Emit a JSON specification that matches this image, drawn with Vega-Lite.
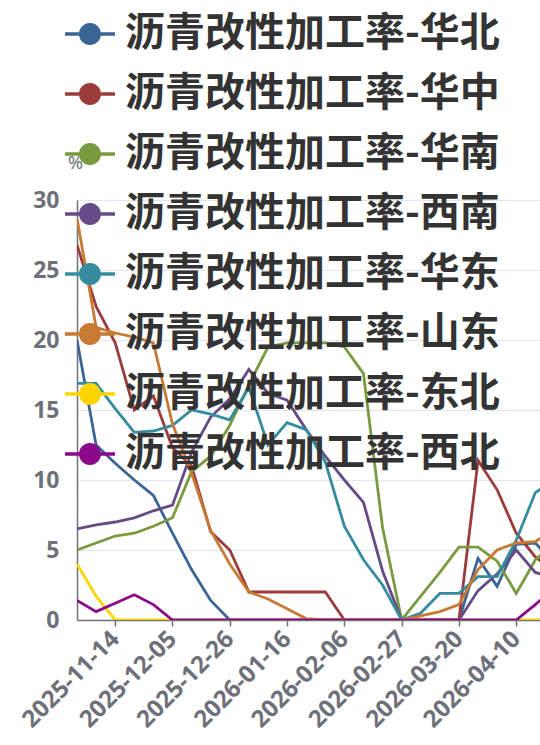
{
  "$schema": "https://vega.github.io/schema/vega-lite/v6.json",
  "autosize": {"type": "none"},
  "padding": {"left": 77, "top": 200, "right": 0, "bottom": 125},
  "width": 463,
  "height": 420,
  "background": "#ffffff",
  "config": {"view": {"stroke": null}},
  "data": {"values": [
    {"d":"2025-10-31","沥青改性加工率-华北":20,"沥青改性加工率-华中":26.8,"沥青改性加工率-华南":5.0,"沥青改性加工率-西南":6.5,"沥青改性加工率-华东":16.9,"沥青改性加工率-山东":28.7,"沥青改性加工率-东北":4.0,"沥青改性加工率-西北":1.4},
    {"d":"2025-11-07","沥青改性加工率-华北":12.5,"沥青改性加工率-华中":22.4,"沥青改性加工率-华南":5.5,"沥青改性加工率-西南":6.8,"沥青改性加工率-华东":16.9,"沥青改性加工率-山东":20.9,"沥青改性加工率-东北":1.7,"沥青改性加工率-西北":0.6},
    {"d":"2025-11-14","沥青改性加工率-华北":11.2,"沥青改性加工率-华中":19.8,"沥青改性加工率-华南":6.0,"沥青改性加工率-西南":7.0,"沥青改性加工率-华东":15.1,"沥青改性加工率-山东":20.5,"沥青改性加工率-东北":0,"沥青改性加工率-西北":1.2},
    {"d":"2025-11-21","沥青改性加工率-华北":10.0,"沥青改性加工率-华中":15.0,"沥青改性加工率-华南":6.2,"沥青改性加工率-西南":7.3,"沥青改性加工率-华东":13.4,"沥青改性加工率-山东":20.2,"沥青改性加工率-东北":0,"沥青改性加工率-西北":1.8},
    {"d":"2025-11-28","沥青改性加工率-华北":8.9,"沥青改性加工率-华中":16.0,"沥青改性加工率-华南":6.7,"沥青改性加工率-西南":7.8,"沥青改性加工率-华东":13.5,"沥青改性加工率-山东":19.8,"沥青改性加工率-东北":0,"沥青改性加工率-西北":1.1},
    {"d":"2025-12-05","沥青改性加工率-华北":6.2,"沥青改性加工率-华中":12.3,"沥青改性加工率-华南":7.3,"沥青改性加工率-西南":8.2,"沥青改性加工率-华东":13.9,"沥青改性加工率-山东":14.0,"沥青改性加工率-东北":0,"沥青改性加工率-西北":0},
    {"d":"2025-12-12","沥青改性加工率-华北":3.6,"沥青改性加工率-华中":11.0,"沥青改性加工率-华南":10.6,"沥青改性加工率-西南":12.0,"沥青改性加工率-华东":15.0,"沥青改性加工率-山东":10.5,"沥青改性加工率-东北":0,"沥青改性加工率-西北":0},
    {"d":"2025-12-19","沥青改性加工率-华北":1.4,"沥青改性加工率-华中":6.3,"沥青改性加工率-华南":11.7,"沥青改性加工率-西南":14.5,"沥青改性加工率-华东":14.7,"沥青改性加工率-山东":6.4,"沥青改性加工率-东北":0,"沥青改性加工率-西北":0},
    {"d":"2025-12-26","沥青改性加工率-华北":0,"沥青改性加工率-华中":5.0,"沥青改性加工率-华南":13.9,"沥青改性加工率-西南":15.8,"沥青改性加工率-华东":14.3,"沥青改性加工率-山东":4.0,"沥青改性加工率-东北":0,"沥青改性加工率-西北":0},
    {"d":"2026-01-02","沥青改性加工率-华北":0,"沥青改性加工率-华中":2.0,"沥青改性加工率-华南":16.8,"沥青改性加工率-西南":17.9,"沥青改性加工率-华东":16.6,"沥青改性加工率-山东":2.0,"沥青改性加工率-东北":0,"沥青改性加工率-西北":0},
    {"d":"2026-01-09","沥青改性加工率-华北":0,"沥青改性加工率-华中":2.0,"沥青改性加工率-华南":19.5,"沥青改性加工率-西南":16.2,"沥青改性加工率-华东":12.5,"沥青改性加工率-山东":1.5,"沥青改性加工率-东北":0,"沥青改性加工率-西北":0},
    {"d":"2026-01-16","沥青改性加工率-华北":0,"沥青改性加工率-华中":2.0,"沥青改性加工率-华南":19.8,"沥青改性加工率-西南":15.7,"沥青改性加工率-华东":14.1,"沥青改性加工率-山东":0.8,"沥青改性加工率-东北":0,"沥青改性加工率-西北":0},
    {"d":"2026-01-23","沥青改性加工率-华北":0,"沥青改性加工率-华中":2.0,"沥青改性加工率-华南":19.8,"沥青改性加工率-西南":13.6,"沥青改性加工率-华东":13.6,"沥青改性加工率-山东":0.1,"沥青改性加工率-东北":0,"沥青改性加工率-西北":0},
    {"d":"2026-01-30","沥青改性加工率-华北":0,"沥青改性加工率-华中":2.0,"沥青改性加工率-华南":19.8,"沥青改性加工率-西南":11.7,"沥青改性加工率-华东":11.3,"沥青改性加工率-山东":0,"沥青改性加工率-东北":0,"沥青改性加工率-西北":0},
    {"d":"2026-02-06","沥青改性加工率-华北":0,"沥青改性加工率-华中":0,"沥青改性加工率-华南":19.5,"沥青改性加工率-西南":10.0,"沥青改性加工率-华东":6.7,"沥青改性加工率-山东":0,"沥青改性加工率-东北":0,"沥青改性加工率-西北":0},
    {"d":"2026-02-13","沥青改性加工率-华北":0,"沥青改性加工率-华中":0,"沥青改性加工率-华南":17.6,"沥青改性加工率-西南":8.4,"沥青改性加工率-华东":4.3,"沥青改性加工率-山东":0,"沥青改性加工率-东北":0,"沥青改性加工率-西北":0},
    {"d":"2026-02-20","沥青改性加工率-华北":0,"沥青改性加工率-华中":0,"沥青改性加工率-华南":6.6,"沥青改性加工率-西南":3.5,"沥青改性加工率-华东":2.5,"沥青改性加工率-山东":0,"沥青改性加工率-东北":0,"沥青改性加工率-西北":0},
    {"d":"2026-02-27","沥青改性加工率-华北":0,"沥青改性加工率-华中":0,"沥青改性加工率-华南":0,"沥青改性加工率-西南":0,"沥青改性加工率-华东":0,"沥青改性加工率-山东":0,"沥青改性加工率-东北":0,"沥青改性加工率-西北":0},
    {"d":"2026-03-06","沥青改性加工率-华北":0,"沥青改性加工率-华中":0,"沥青改性加工率-华南":1.7,"沥青改性加工率-西南":0,"沥青改性加工率-华东":0.5,"沥青改性加工率-山东":0.3,"沥青改性加工率-东北":0,"沥青改性加工率-西北":0},
    {"d":"2026-03-13","沥青改性加工率-华北":0,"沥青改性加工率-华中":0,"沥青改性加工率-华南":3.4,"沥青改性加工率-西南":0,"沥青改性加工率-华东":1.9,"沥青改性加工率-山东":0.6,"沥青改性加工率-东北":0,"沥青改性加工率-西北":0},
    {"d":"2026-03-20","沥青改性加工率-华北":0,"沥青改性加工率-华中":0,"沥青改性加工率-华南":5.2,"沥青改性加工率-西南":0,"沥青改性加工率-华东":1.9,"沥青改性加工率-山东":1.1,"沥青改性加工率-东北":0,"沥青改性加工率-西北":0},
    {"d":"2026-03-27","沥青改性加工率-华北":4.4,"沥青改性加工率-华中":11.4,"沥青改性加工率-华南":5.2,"沥青改性加工率-西南":2.1,"沥青改性加工率-华东":3.1,"沥青改性加工率-山东":3.6,"沥青改性加工率-东北":0,"沥青改性加工率-西北":0},
    {"d":"2026-04-03","沥青改性加工率-华北":2.4,"沥青改性加工率-华中":9.3,"沥青改性加工率-华南":4.2,"沥青改性加工率-西南":3.3,"沥青改性加工率-华东":3.1,"沥青改性加工率-山东":5.0,"沥青改性加工率-东北":0,"沥青改性加工率-西北":0},
    {"d":"2026-04-10","沥青改性加工率-华北":5.4,"沥青改性加工率-华中":6.2,"沥青改性加工率-华南":1.9,"沥青改性加工率-西南":5.0,"沥青改性加工率-华东":5.7,"沥青改性加工率-山东":5.5,"沥青改性加工率-东北":0,"沥青改性加工率-西北":0},
    {"d":"2026-04-17","沥青改性加工率-华北":5.5,"沥青改性加工率-华中":4.5,"沥青改性加工率-华南":4.3,"沥青改性加工率-西南":3.4,"沥青改性加工率-华东":9.1,"沥青改性加工率-山东":5.6,"沥青改性加工率-东北":0,"沥青改性加工率-西北":1.1},
    {"d":"2026-04-24","沥青改性加工率-华北":4.0,"沥青改性加工率-华中":3.5,"沥青改性加工率-华南":5.5,"沥青改性加工率-西南":3.0,"沥青改性加工率-华东":10.0,"沥青改性加工率-山东":6.5,"沥青改性加工率-东北":0,"沥青改性加工率-西北":2.3}
  ]},
  "transform": [
    {"fold": ["沥青改性加工率-华北","沥青改性加工率-华中","沥青改性加工率-华南","沥青改性加工率-西南","沥青改性加工率-华东","沥青改性加工率-山东","沥青改性加工率-东北","沥青改性加工率-西北"], "as": ["s","v"]}
  ],
  "mark": {"type": "line", "strokeWidth": 2.8, "clip": true},
  "encoding": {
    "x": {
      "field": "d", "type": "temporal",
      "scale": {"type": "utc", "domain": [{"year":2025,"month":10,"date":31,"utc":true},{"year":2026,"month":4,"date":18,"hours":17,"utc":true}]},
      "axis": {
        "title": null, "grid": false, "format": "%Y-%m-%d", "labelAngle": -45, "labelAlign": "right", "labelBaseline": "middle",
        "values": [{"year":2025,"month":11,"date":14,"utc":true},{"year":2025,"month":12,"date":5,"utc":true},{"year":2025,"month":12,"date":26,"utc":true},{"year":2026,"month":1,"date":16,"utc":true},{"year":2026,"month":2,"date":6,"utc":true},{"year":2026,"month":2,"date":27,"utc":true},{"year":2026,"month":3,"date":20,"utc":true},{"year":2026,"month":4,"date":10,"utc":true}],
        "labelFont": "Noto Sans", "labelFontSize": 24, "labelFontWeight": "bold", "labelColor": "#6e7079",
        "tickColor": "#6e7079", "tickSize": 6, "tickWidth": 1.5, "domainColor": "#6e7079", "domainWidth": 1.5,
        "labelPadding": 9, "labelOverlap": false, "labelFlush": false
      }
    },
    "y": {
      "field": "v", "type": "quantitative",
      "scale": {"domain": [0, 30], "nice": false, "zero": true},
      "axis": {
        "values": [0,5,10,15,20,25,30], "ticks": false, "grid": true, "gridColor": "#e0e6f1", "gridWidth": 1,
        "domainColor": "#6e7079", "domainWidth": 1.5,
        "labelFont": "Noto Sans", "labelFontSize": 23, "labelFontWeight": "bold", "labelColor": "#6e7079", "labelPadding": 18,
        "title": "%", "titleAngle": 0, "titleX": -2, "titleY": -37, "titleAlign": "center", "titleBaseline": "middle",
        "titleFont": "Noto Sans", "titleFontSize": 18, "titleFontWeight": "normal", "titleColor": "#6e7079"
      }
    },
    "color": {
      "field": "s", "type": "nominal",
      "scale": {
        "domain": ["沥青改性加工率-华北","沥青改性加工率-华中","沥青改性加工率-华南","沥青改性加工率-西南","沥青改性加工率-华东","沥青改性加工率-山东","沥青改性加工率-东北","沥青改性加工率-西北"],
        "range": ["#3a6595","#9b3b3b","#7a9a3f","#674b87","#358c9e","#c87933","#ffd500","#8b0a8b"]
      },
      "legend": {
        "orient": "none", "legendX": -12, "legendY": -191, "title": null, "direction": "vertical", "padding": 0,
        "symbolType": "M-1,-0.07L1,-0.07L1,0.07L-1,0.07Z M-0.44,0A0.44,0.44 0 1,1 0.44,0A0.44,0.44 0 1,1 -0.44,0Z",
        "symbolSize": 2500, "symbolStrokeWidth": 0,
        "labelFont": "Noto Sans CJK SC", "labelFontSize": 40, "labelFontWeight": "bold", "labelColor": "#333333",
        "labelOffset": 10, "labelLimit": 0, "rowPadding": 15,
        "encode": {"symbols": {"update": {"fill": {"scale": "color", "field": "value"}, "fillOpacity": {"value": 1}, "stroke": {"value": "transparent"}, "opacity": {"value": 1}}}}
      }
    }
  }
}
